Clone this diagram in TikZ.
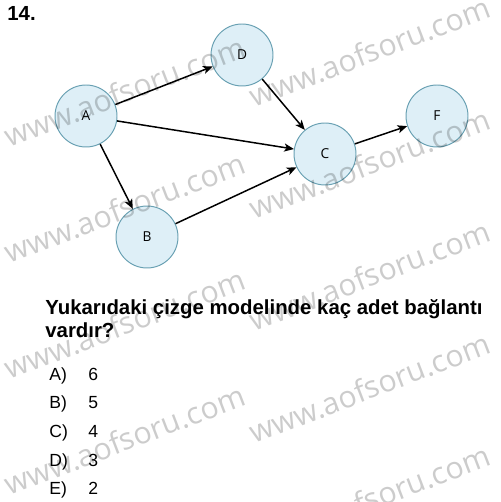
\documentclass[tikz,border=0pt]{standalone}
\usepackage{graphicx}
\usepackage{fontspec}
\setmainfont{Liberation Sans}
\newfontfamily\opensans{Open Sans}
\usepackage{tikz}
\usetikzlibrary{arrows.meta}
\definecolor{fillblue}{RGB}{222,239,247}
\definecolor{edgeblue}{RGB}{104,160,178}

\begin{document}
\begin{tikzpicture}[x=0.02cm,y=-0.02cm]
    \tikzset{
        vertex/.style={draw=edgeblue, fill=fillblue, circle, minimum size=1.24cm, inner sep=0pt, line width=0.55pt, font=\opensans\fontsize{7.8}{9}\selectfont},
        line/.style={draw, line width=0.85pt, -{Stealth[length=5.5pt,width=4.6pt,inset=1.4pt]}},
        question/.style={anchor=base west, inner sep=0pt, font=\bfseries\fontsize{11.6}{13}\selectfont},
        choice/.style={anchor=base west, inner sep=0pt, font=\fontsize{10}{12}\selectfont},
        stamp/.style={anchor=base west, inner sep=0pt, rotate=21, black, opacity=0.2, font=\opensans},
    };
    \useasboundingbox (0,0) rectangle (500,502);

    \node [question] (num) at (7,21) {14.};

    \node [vertex] (A) at (86,116) {A};
    \node [vertex] (D) at (242,55) {D};
    \node [vertex] (C) at (325,154) {C};
    \node [vertex] (B) at (147,237) {B};
    \node [vertex] (F) at (437,116) {F};

    \path [line] (A)--(D);
    \path [line] (A)--(C);
    \path [line] (A)--(B);
    \path [line] (D)--(C);
    \path [line] (B)--(C);
    \path [line] (C)--(F);

    \node [question] (q1) at (45,315) {Yukarıdaki çizge modelinde kaç adet bağlantı};
    \node [question] (q2) at (45,337) {vardır?};

    \node [choice] (la) at (49,380) {A)};
    \node [choice] (va) at (88,380) {6};
    \node [choice] (lb) at (49,408) {B)};
    \node [choice] (vb) at (88,408) {5};
    \node [choice] (lc) at (49,437) {C)};
    \node [choice] (vc) at (88,437) {4};
    \node [choice] (ld) at (49,466) {D)};
    \node [choice] (vd) at (88,466) {3};
    \node [choice] (le) at (49,494) {E)};
    \node [choice] (ve) at (88,494) {2};

    % watermark
    \node [stamp] (wl1) at (9,148) {\resizebox{5.1cm}{!}{www.aofsoru.com}};
    \node [stamp] (wl2) at (9,264) {\resizebox{5.1cm}{!}{www.aofsoru.com}};
    \node [stamp] (wl3) at (9,380) {\resizebox{5.1cm}{!}{www.aofsoru.com}};
    \node [stamp] (wl4) at (9,496) {\resizebox{5.1cm}{!}{www.aofsoru.com}};
    \node [stamp] (wr1) at (254,108) {\resizebox{5.1cm}{!}{www.aofsoru.com}};
    \node [stamp] (wr2) at (254,220) {\resizebox{5.1cm}{!}{www.aofsoru.com}};
    \node [stamp] (wr3) at (254,332) {\resizebox{5.1cm}{!}{www.aofsoru.com}};
    \node [stamp] (wr4) at (254,444) {\resizebox{5.1cm}{!}{www.aofsoru.com}};
    \node [stamp] (wr5) at (254,556) {\resizebox{5.1cm}{!}{www.aofsoru.com}};
\end{tikzpicture}
\end{document}
